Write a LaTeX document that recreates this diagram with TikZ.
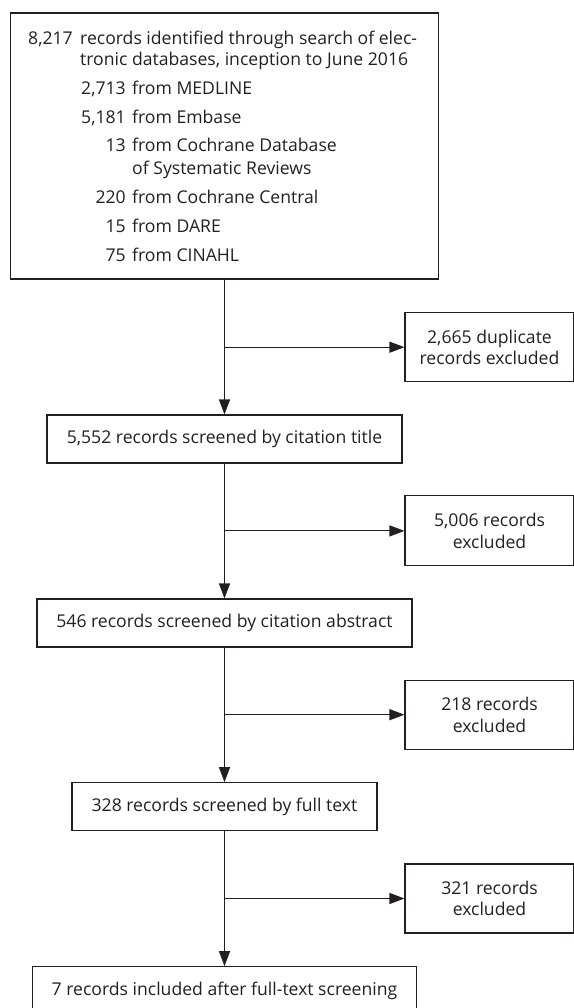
\documentclass[tikz,border=0pt]{standalone}
\usepackage{fontspec}
\setmainfont{Open Sans}
\usetikzlibrary{arrows.meta,calc}
\definecolor{ink}{HTML}{231F20}
\begin{document}
\begin{tikzpicture}[x=1pt,y=-1pt,
  every node/.style={text=ink,font=\fontsize{17.6}{21.5}\selectfont},
  box/.style={draw=ink,line width=1.1pt,inner sep=0pt,align=center},
  side/.style={box,minimum width=169pt,minimum height=69pt},
  txt/.style={inner sep=0pt},
  arr/.style={draw=ink,line width=1.1pt,-{Triangle[length=15pt,width=11pt]}},
  ln/.style={draw=ink,line width=1.1pt}]
\useasboundingbox (0,0) rectangle (573,1008);
% main boxes
\node[box,minimum width=428pt,minimum height=266pt] (top) at (224.5,146) {};
\node[box,minimum width=355pt,minimum height=48pt] (t1) at (224.5,439) {5,552 records screened by citation title};
\node[box,minimum width=375pt,minimum height=48pt] (t2) at (224.5,623) {546 records screened by citation abstract};
\node[box,minimum width=305pt,minimum height=47.6pt] (t3) at (224.5,806.5) {328 records screened by full text};
\node[box,minimum width=384pt,minimum height=48pt] (fin) at (224.5,990.7) {7 records included after full-text screening};
% side boxes
\node[side] (dup) at (489.5,347.2) {2,665 duplicate\\records excluded};
\node[side,minimum height=70pt] (ex1) at (489.5,530.9) {5,006 records\\excluded};
\node[side] (ex2) at (489.5,714.7) {218 records\\excluded};
\node[side] (ex3) at (489.5,898.5) {321 records\\excluded};
% text of top box
\node[txt,anchor=base east] (a1) at (73,45) {8,217};
\node[txt,anchor=base west] (a2) at (80,45) {records identified through search of elec-};
\node[txt,anchor=base west] (a3) at (80,66) {tronic databases, inception to June 2016};
\node[txt,anchor=base east] (n1) at (126,95) {2,713};
\node[txt,anchor=base west] (m1) at (132,95) {from MEDLINE};
\node[txt,anchor=base east] (n2) at (126,123.5) {5,181};
\node[txt,anchor=base west] (m2) at (132,123.5) {from Embase};
\node[txt,anchor=base east] (n3) at (126,152) {13};
\node[txt,anchor=base west] (m3) at (132,152) {from Cochrane Database};
\node[txt,anchor=base west] (m3b) at (132,174.5) {of Systematic Reviews};
\node[txt,anchor=base east] (n4) at (126,204) {220};
\node[txt,anchor=base west] (m4) at (132,204) {from Cochrane Central};
\node[txt,anchor=base east] (n5) at (126,233) {15};
\node[txt,anchor=base west] (m5) at (132,233) {from DARE};
\node[txt,anchor=base east] (n6) at (126,261.5) {75};
\node[txt,anchor=base west] (m6) at (132,261.5) {from CINAHL};
% connectors
\draw[arr] (top.south) -- (t1.north);
\draw[arr] (dup.west -| top.south) -- (dup.west);
\draw[arr] (t1.south) -- (t2.north);
\draw[arr] (ex1.west -| t1.south) -- (ex1.west);
\draw[arr] (t2.south) -- (t3.north);
\draw[arr] (ex2.west -| t2.south) -- (ex2.west);
\draw[arr] (t3.south) -- (fin.north);
\draw[arr] (ex3.west -| t3.south) -- (ex3.west);
\end{tikzpicture}
\end{document}
